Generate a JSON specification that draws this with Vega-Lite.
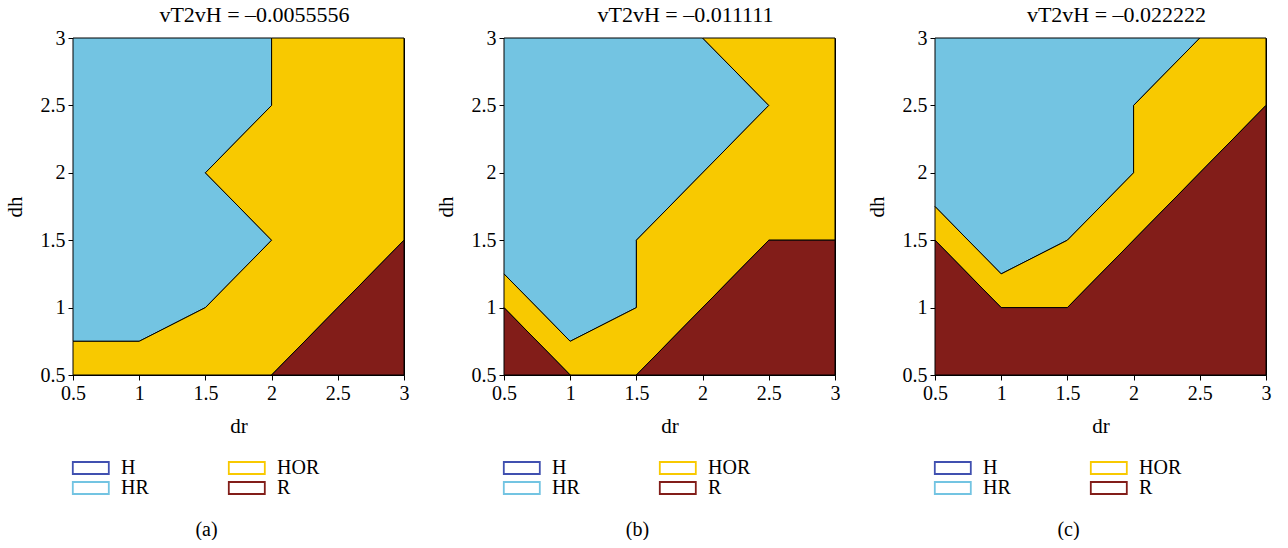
{
  "$schema": "https://vega.github.io/schema/vega-lite/v6.json",
  "background": "white",
  "padding": {"left": 3, "top": 3, "right": 0, "bottom": 0},
  "config": {
    "font": "Liberation Serif",
    "view": {"stroke": "black", "strokeWidth": 1},
    "axis": {"grid": false, "domainColor": "black", "tickColor": "black", "tickSize": 5, "labelColor": "black", "labelFontSize": 20, "titleFontSize": 21, "titleFontWeight": "normal", "titleColor": "black", "labelFont": "Liberation Serif", "titleFont": "Liberation Serif", "labelPadding": 3, "labelOverlap": false, "labelFlush": false},
    "title": {"font": "Liberation Serif", "fontSize": 22, "fontWeight": "normal", "color": "black"},
    "legend": {"labelFont": "Liberation Serif", "labelFontSize": 20, "labelColor": "black"}
  },
  "datasets": {
    "poly": [
      {"p":"a","g":"a_HR","r":"HR","o":1,"dr":0.5,"dh":3},
      {"p":"a","g":"a_HR","r":"HR","o":2,"dr":2,"dh":3},
      {"p":"a","g":"a_HR","r":"HR","o":3,"dr":2,"dh":2.5},
      {"p":"a","g":"a_HR","r":"HR","o":4,"dr":1.5,"dh":2},
      {"p":"a","g":"a_HR","r":"HR","o":5,"dr":2,"dh":1.5},
      {"p":"a","g":"a_HR","r":"HR","o":6,"dr":1.5,"dh":1},
      {"p":"a","g":"a_HR","r":"HR","o":7,"dr":1,"dh":0.75},
      {"p":"a","g":"a_HR","r":"HR","o":8,"dr":0.5,"dh":0.75},
      {"p":"a","g":"a_HR","r":"HR","o":9,"dr":0.5,"dh":3},
      {"p":"a","g":"a_HOR","r":"HOR","o":1,"dr":2,"dh":3},
      {"p":"a","g":"a_HOR","r":"HOR","o":2,"dr":3,"dh":3},
      {"p":"a","g":"a_HOR","r":"HOR","o":3,"dr":3,"dh":1.5},
      {"p":"a","g":"a_HOR","r":"HOR","o":4,"dr":2,"dh":0.5},
      {"p":"a","g":"a_HOR","r":"HOR","o":5,"dr":0.5,"dh":0.5},
      {"p":"a","g":"a_HOR","r":"HOR","o":6,"dr":0.5,"dh":0.75},
      {"p":"a","g":"a_HOR","r":"HOR","o":7,"dr":1,"dh":0.75},
      {"p":"a","g":"a_HOR","r":"HOR","o":8,"dr":1.5,"dh":1},
      {"p":"a","g":"a_HOR","r":"HOR","o":9,"dr":2,"dh":1.5},
      {"p":"a","g":"a_HOR","r":"HOR","o":10,"dr":1.5,"dh":2},
      {"p":"a","g":"a_HOR","r":"HOR","o":11,"dr":2,"dh":2.5},
      {"p":"a","g":"a_HOR","r":"HOR","o":12,"dr":2,"dh":3},
      {"p":"a","g":"a_R","r":"R","o":1,"dr":2,"dh":0.5},
      {"p":"a","g":"a_R","r":"R","o":2,"dr":3,"dh":1.5},
      {"p":"a","g":"a_R","r":"R","o":3,"dr":3,"dh":0.5},
      {"p":"a","g":"a_R","r":"R","o":4,"dr":2,"dh":0.5},

      {"p":"b","g":"b_HR","r":"HR","o":1,"dr":0.5,"dh":3},
      {"p":"b","g":"b_HR","r":"HR","o":2,"dr":2,"dh":3},
      {"p":"b","g":"b_HR","r":"HR","o":3,"dr":2.5,"dh":2.5},
      {"p":"b","g":"b_HR","r":"HR","o":4,"dr":1.5,"dh":1.5},
      {"p":"b","g":"b_HR","r":"HR","o":5,"dr":1.5,"dh":1},
      {"p":"b","g":"b_HR","r":"HR","o":6,"dr":1,"dh":0.75},
      {"p":"b","g":"b_HR","r":"HR","o":7,"dr":0.5,"dh":1.25},
      {"p":"b","g":"b_HR","r":"HR","o":8,"dr":0.5,"dh":3},
      {"p":"b","g":"b_HOR","r":"HOR","o":1,"dr":2,"dh":3},
      {"p":"b","g":"b_HOR","r":"HOR","o":2,"dr":3,"dh":3},
      {"p":"b","g":"b_HOR","r":"HOR","o":3,"dr":3,"dh":1.5},
      {"p":"b","g":"b_HOR","r":"HOR","o":4,"dr":2.5,"dh":1.5},
      {"p":"b","g":"b_HOR","r":"HOR","o":5,"dr":1.5,"dh":0.5},
      {"p":"b","g":"b_HOR","r":"HOR","o":6,"dr":1,"dh":0.5},
      {"p":"b","g":"b_HOR","r":"HOR","o":7,"dr":0.5,"dh":1},
      {"p":"b","g":"b_HOR","r":"HOR","o":8,"dr":0.5,"dh":1.25},
      {"p":"b","g":"b_HOR","r":"HOR","o":9,"dr":1,"dh":0.75},
      {"p":"b","g":"b_HOR","r":"HOR","o":10,"dr":1.5,"dh":1},
      {"p":"b","g":"b_HOR","r":"HOR","o":11,"dr":1.5,"dh":1.5},
      {"p":"b","g":"b_HOR","r":"HOR","o":12,"dr":2.5,"dh":2.5},
      {"p":"b","g":"b_HOR","r":"HOR","o":13,"dr":2,"dh":3},
      {"p":"b","g":"b_R1","r":"R","o":1,"dr":0.5,"dh":1},
      {"p":"b","g":"b_R1","r":"R","o":2,"dr":1,"dh":0.5},
      {"p":"b","g":"b_R1","r":"R","o":3,"dr":0.5,"dh":0.5},
      {"p":"b","g":"b_R1","r":"R","o":4,"dr":0.5,"dh":1},
      {"p":"b","g":"b_R2","r":"R","o":1,"dr":1.5,"dh":0.5},
      {"p":"b","g":"b_R2","r":"R","o":2,"dr":2.5,"dh":1.5},
      {"p":"b","g":"b_R2","r":"R","o":3,"dr":3,"dh":1.5},
      {"p":"b","g":"b_R2","r":"R","o":4,"dr":3,"dh":0.5},
      {"p":"b","g":"b_R2","r":"R","o":5,"dr":1.5,"dh":0.5},

      {"p":"c","g":"c_HR","r":"HR","o":1,"dr":0.5,"dh":3},
      {"p":"c","g":"c_HR","r":"HR","o":2,"dr":2.5,"dh":3},
      {"p":"c","g":"c_HR","r":"HR","o":3,"dr":2,"dh":2.5},
      {"p":"c","g":"c_HR","r":"HR","o":4,"dr":2,"dh":2},
      {"p":"c","g":"c_HR","r":"HR","o":5,"dr":1.5,"dh":1.5},
      {"p":"c","g":"c_HR","r":"HR","o":6,"dr":1,"dh":1.25},
      {"p":"c","g":"c_HR","r":"HR","o":7,"dr":0.5,"dh":1.75},
      {"p":"c","g":"c_HR","r":"HR","o":8,"dr":0.5,"dh":3},
      {"p":"c","g":"c_HOR","r":"HOR","o":1,"dr":2.5,"dh":3},
      {"p":"c","g":"c_HOR","r":"HOR","o":2,"dr":3,"dh":3},
      {"p":"c","g":"c_HOR","r":"HOR","o":3,"dr":3,"dh":2.5},
      {"p":"c","g":"c_HOR","r":"HOR","o":4,"dr":1.5,"dh":1},
      {"p":"c","g":"c_HOR","r":"HOR","o":5,"dr":1,"dh":1},
      {"p":"c","g":"c_HOR","r":"HOR","o":6,"dr":0.5,"dh":1.5},
      {"p":"c","g":"c_HOR","r":"HOR","o":7,"dr":0.5,"dh":1.75},
      {"p":"c","g":"c_HOR","r":"HOR","o":8,"dr":1,"dh":1.25},
      {"p":"c","g":"c_HOR","r":"HOR","o":9,"dr":1.5,"dh":1.5},
      {"p":"c","g":"c_HOR","r":"HOR","o":10,"dr":2,"dh":2},
      {"p":"c","g":"c_HOR","r":"HOR","o":11,"dr":2,"dh":2.5},
      {"p":"c","g":"c_HOR","r":"HOR","o":12,"dr":2.5,"dh":3},
      {"p":"c","g":"c_R","r":"R","o":1,"dr":0.5,"dh":1.5},
      {"p":"c","g":"c_R","r":"R","o":2,"dr":1,"dh":1},
      {"p":"c","g":"c_R","r":"R","o":3,"dr":1.5,"dh":1},
      {"p":"c","g":"c_R","r":"R","o":4,"dr":3,"dh":2.5},
      {"p":"c","g":"c_R","r":"R","o":5,"dr":3,"dh":0.5},
      {"p":"c","g":"c_R","r":"R","o":6,"dr":0.5,"dh":0.5},
      {"p":"c","g":"c_R","r":"R","o":7,"dr":0.5,"dh":1.5}
    ]
  },
  "spacing": 24,
  "resolve": {"scale": {"x": "independent", "y": "independent", "fill": "independent", "stroke": "independent"}, "legend": {"stroke": "independent", "fill": "independent"}},
  "hconcat": [
    {
      "title": {"text": "(a)", "orient": "bottom", "anchor": "middle", "offset": 21, "fontSize": 20},
      "resolve": {"scale": {"fill": "independent", "stroke": "independent"}, "legend": {"stroke": "independent"}},
      "vconcat": [
        {
          "width": 331, "height": 337,
          "title": {"text": "vT2vH = –0.0055556", "offset": 1, "dx": 16},
          "data": {"name": "poly"},
          "transform": [{"filter": "datum.p == 'a'"}],
          "layer": [
            {
              "transform": [{"filter": "false"}],
              "mark": {"type": "point", "filled": false, "opacity": 1, "strokeWidth": 1.8},
              "encoding": {
                "x": {"field": "dr", "type": "quantitative"},
                "y": {"field": "dh", "type": "quantitative"},
                "stroke": {"field": "r", "type": "nominal", "scale": {"domain": ["H", "HOR", "HR", "R"], "range": ["#4050b0", "#f8c900", "#73c4e2", "#821d19"]},
                  "legend": {"title": null, "orient": "bottom", "direction": "horizontal", "columns": 2, "symbolType": "M-1.7,-1H4.3V1H-1.7Z", "symbolSize": 144, "symbolStrokeWidth": 1.8, "symbolFillColor": "white", "symbolOpacity": 1, "labelOffset": 28, "columnPadding": 76, "rowPadding": 0, "offset": 22}}
              }
            },
            {
              "mark": {"type": "line", "filled": true, "stroke": "black", "strokeWidth": 1, "strokeJoin": "miter"},
              "encoding": {
                "x": {"field": "dr", "type": "quantitative", "title": "dr", "scale": {"domain": [0.5, 3], "nice": false, "zero": false}, "axis": {"values": [0.5, 1, 1.5, 2, 2.5, 3], "format": "~g", "titlePadding": 12}},
                "y": {"field": "dh", "type": "quantitative", "title": "dh", "scale": {"domain": [0.5, 3], "nice": false, "zero": false}, "axis": {"values": [0.5, 1, 1.5, 2, 2.5, 3], "format": "~g", "titlePadding": 15}},
                "detail": {"field": "g"},
                "order": {"field": "o", "type": "quantitative"},
                "fill": {"field": "r", "type": "nominal", "scale": {"domain": ["HOR", "HR", "R"], "range": ["#f8c900", "#73c4e2", "#821d19"]}, "legend": null}
              }
            }
          ]
        }
      ]
    },
    {
      "title": {"text": "(b)", "orient": "bottom", "anchor": "middle", "offset": 21, "fontSize": 20},
      "resolve": {"scale": {"fill": "independent", "stroke": "independent"}, "legend": {"stroke": "independent"}},
      "vconcat": [
        {
          "width": 331, "height": 337,
          "title": {"text": "vT2vH = –0.011111", "offset": 1, "dx": 16},
          "data": {"name": "poly"},
          "transform": [{"filter": "datum.p == 'b'"}],
          "layer": [
            {
              "transform": [{"filter": "false"}],
              "mark": {"type": "point", "filled": false, "opacity": 1, "strokeWidth": 1.8},
              "encoding": {
                "x": {"field": "dr", "type": "quantitative"},
                "y": {"field": "dh", "type": "quantitative"},
                "stroke": {"field": "r", "type": "nominal", "scale": {"domain": ["H", "HOR", "HR", "R"], "range": ["#4050b0", "#f8c900", "#73c4e2", "#821d19"]},
                  "legend": {"title": null, "orient": "bottom", "direction": "horizontal", "columns": 2, "symbolType": "M-1.7,-1H4.3V1H-1.7Z", "symbolSize": 144, "symbolStrokeWidth": 1.8, "symbolFillColor": "white", "symbolOpacity": 1, "labelOffset": 28, "columnPadding": 76, "rowPadding": 0, "offset": 22}}
              }
            },
            {
              "mark": {"type": "line", "filled": true, "stroke": "black", "strokeWidth": 1, "strokeJoin": "miter"},
              "encoding": {
                "x": {"field": "dr", "type": "quantitative", "title": "dr", "scale": {"domain": [0.5, 3], "nice": false, "zero": false}, "axis": {"values": [0.5, 1, 1.5, 2, 2.5, 3], "format": "~g", "titlePadding": 12}},
                "y": {"field": "dh", "type": "quantitative", "title": "dh", "scale": {"domain": [0.5, 3], "nice": false, "zero": false}, "axis": {"values": [0.5, 1, 1.5, 2, 2.5, 3], "format": "~g", "titlePadding": 15}},
                "detail": {"field": "g"},
                "order": {"field": "o", "type": "quantitative"},
                "fill": {"field": "r", "type": "nominal", "scale": {"domain": ["HOR", "HR", "R"], "range": ["#f8c900", "#73c4e2", "#821d19"]}, "legend": null}
              }
            }
          ]
        }
      ]
    },
    {
      "title": {"text": "(c)", "orient": "bottom", "anchor": "middle", "offset": 21, "fontSize": 20},
      "resolve": {"scale": {"fill": "independent", "stroke": "independent"}, "legend": {"stroke": "independent"}},
      "vconcat": [
        {
          "width": 331, "height": 337,
          "title": {"text": "vT2vH = –0.022222", "offset": 1, "dx": 16},
          "data": {"name": "poly"},
          "transform": [{"filter": "datum.p == 'c'"}],
          "layer": [
            {
              "transform": [{"filter": "false"}],
              "mark": {"type": "point", "filled": false, "opacity": 1, "strokeWidth": 1.8},
              "encoding": {
                "x": {"field": "dr", "type": "quantitative"},
                "y": {"field": "dh", "type": "quantitative"},
                "stroke": {"field": "r", "type": "nominal", "scale": {"domain": ["H", "HOR", "HR", "R"], "range": ["#4050b0", "#f8c900", "#73c4e2", "#821d19"]},
                  "legend": {"title": null, "orient": "bottom", "direction": "horizontal", "columns": 2, "symbolType": "M-1.7,-1H4.3V1H-1.7Z", "symbolSize": 144, "symbolStrokeWidth": 1.8, "symbolFillColor": "white", "symbolOpacity": 1, "labelOffset": 28, "columnPadding": 76, "rowPadding": 0, "offset": 22}}
              }
            },
            {
              "mark": {"type": "line", "filled": true, "stroke": "black", "strokeWidth": 1, "strokeJoin": "miter"},
              "encoding": {
                "x": {"field": "dr", "type": "quantitative", "title": "dr", "scale": {"domain": [0.5, 3], "nice": false, "zero": false}, "axis": {"values": [0.5, 1, 1.5, 2, 2.5, 3], "format": "~g", "titlePadding": 12}},
                "y": {"field": "dh", "type": "quantitative", "title": "dh", "scale": {"domain": [0.5, 3], "nice": false, "zero": false}, "axis": {"values": [0.5, 1, 1.5, 2, 2.5, 3], "format": "~g", "titlePadding": 15}},
                "detail": {"field": "g"},
                "order": {"field": "o", "type": "quantitative"},
                "fill": {"field": "r", "type": "nominal", "scale": {"domain": ["HOR", "HR", "R"], "range": ["#f8c900", "#73c4e2", "#821d19"]}, "legend": null}
              }
            }
          ]
        }
      ]
    }
  ]
}
